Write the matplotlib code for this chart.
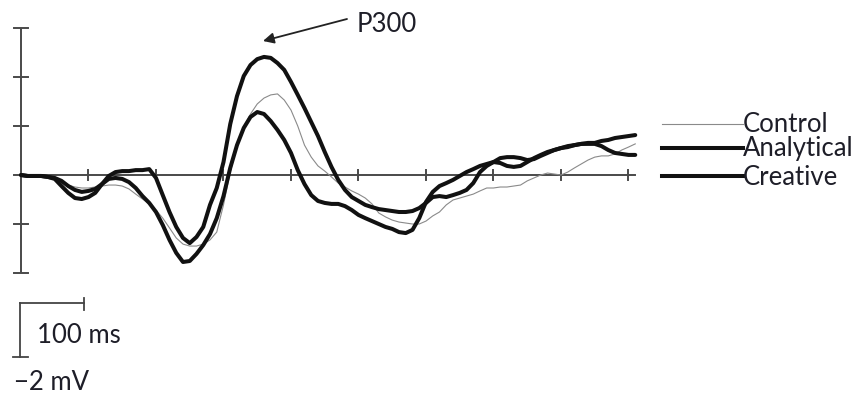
import matplotlib
matplotlib.use("Agg")
import matplotlib.pyplot as plt
from matplotlib.lines import Line2D
import numpy as np

# ---------------- data (µV, sampled every 10 ms from 0 to 910 ms) ----------------
time_ms = np.arange(0, 911, 10)

control = [
    0.00, -0.04, -0.04, -0.08, -0.08, -0.16, -0.29, -0.41, -0.49, -0.53,
    -0.53, -0.49, -0.45, -0.41, -0.41, -0.45, -0.57, -0.78, -0.98, -1.18,
    -1.43, -1.76, -2.16, -2.57, -2.82, -2.90, -2.90, -2.82, -2.65, -2.33,
    -1.22, 0.12, 1.18, 1.96, 2.49, 2.90, 3.14, 3.27, 3.31, 3.06,
    2.65, 2.00, 1.22, 0.73, 0.37, 0.16, -0.08, -0.33, -0.49, -0.65,
    -0.78, -0.94, -1.18, -1.55, -1.71, -1.84, -1.92, -1.96, -2.00, -2.00,
    -1.88, -1.67, -1.51, -1.22, -1.02, -0.94, -0.86, -0.78, -0.65, -0.53,
    -0.53, -0.49, -0.49, -0.45, -0.41, -0.24, -0.12, 0.00, 0.08, 0.04,
    0.00, 0.12, 0.29, 0.45, 0.61, 0.73, 0.78, 0.78, 0.86, 1.02,
    1.14, 1.27,
]

analytical = [
    0.00, -0.04, -0.04, -0.04, -0.08, -0.12, -0.24, -0.45, -0.61, -0.69,
    -0.65, -0.57, -0.37, -0.16, -0.12, -0.16, -0.29, -0.53, -0.86, -1.14,
    -1.51, -2.04, -2.65, -3.18, -3.55, -3.51, -3.22, -2.86, -2.41, -1.76,
    -0.86, 0.29, 1.22, 1.92, 2.37, 2.57, 2.49, 2.20, 1.84, 1.43,
    0.90, 0.20, -0.37, -0.82, -1.06, -1.14, -1.18, -1.18, -1.27, -1.43,
    -1.63, -1.76, -1.88, -2.00, -2.12, -2.20, -2.33, -2.37, -2.24, -1.76,
    -1.10, -0.69, -0.45, -0.33, -0.20, -0.04, 0.12, 0.24, 0.37, 0.45,
    0.53, 0.49, 0.37, 0.33, 0.37, 0.53, 0.69, 0.82, 0.94, 1.02,
    1.10, 1.18, 1.22, 1.27, 1.31, 1.31, 1.39, 1.43, 1.51, 1.55,
    1.59, 1.63,
]

creative = [
    0.00, -0.04, -0.04, -0.04, -0.08, -0.16, -0.45, -0.73, -0.94, -0.98,
    -0.90, -0.73, -0.37, -0.04, 0.12, 0.16, 0.16, 0.20, 0.20, 0.24,
    -0.12, -0.82, -1.51, -2.12, -2.57, -2.78, -2.53, -2.12, -1.22, -0.53,
    0.53, 2.08, 3.22, 4.04, 4.49, 4.73, 4.82, 4.78, 4.57, 4.29,
    3.80, 3.27, 2.73, 2.16, 1.59, 0.94, 0.33, -0.20, -0.61, -0.90,
    -1.06, -1.22, -1.31, -1.39, -1.43, -1.47, -1.51, -1.51, -1.47, -1.35,
    -1.14, -0.90, -0.86, -0.90, -0.82, -0.73, -0.61, -0.33, 0.12, 0.37,
    0.53, 0.69, 0.73, 0.73, 0.69, 0.61, 0.65, 0.78, 0.90, 1.02,
    1.10, 1.14, 1.22, 1.27, 1.27, 1.27, 1.18, 1.02, 0.90, 0.86,
    0.82, 0.82,
]

y_ticks = [-4, -2, 0, 2, 4, 6]
x_ticks = [100, 200, 300, 400, 500, 600, 700, 800, 900]
series_names = ["Control", "Analytical", "Creative"]

# ---------------- figure ----------------
W, H = 858, 396
fig = plt.figure(figsize=(W / 100, H / 100), dpi=100)
ax = fig.add_axes([0, 0, 1, 1])
ax.set_xlim(-31.1, 1240)
ax.set_ylim(-9.02, 7.143)
ax.axis("off")

axis_col = "#4a4a4a"
# vertical axis with ticks
ax.plot([0, 0], [y_ticks[0], y_ticks[-1]], color=axis_col, lw=1.4, solid_capstyle="butt")
for v in y_ticks:
    ax.plot([-10.5, 10.5], [v, v], color=axis_col, lw=1.4)
# zero line with ticks
ax.plot([0, 910], [0, 0], color=axis_col, lw=1.4)
for t in x_ticks:
    ax.plot([t, t], [-0.22, 0.22], color=axis_col, lw=1.4)

# curves
ax.plot(time_ms, control, color="#8a8a8a", lw=0.8, zorder=3)
ax.plot(time_ms, analytical, color="#111111", lw=2.9, zorder=4,
        solid_joinstyle="round", solid_capstyle="round")
ax.plot(time_ms, creative, color="#111111", lw=2.9, zorder=5,
        solid_joinstyle="round", solid_capstyle="round")

# ---------------- annotations in pixel coordinates ----------------
def P(x, y):
    return (x / W, 1 - y / H)

FONT = ["Lato", "DejaVu Sans"]
txt_col = "#1e1e28"
fs = 18.5

# P300 label and arrow
fig.text(*P(357, 32), "P300", fontsize=fs, family=FONT, color=txt_col, va="baseline", ha="left")
ax.annotate("", xy=P(263, 41), xycoords="figure fraction",
            xytext=P(347, 19), textcoords="figure fraction",
            arrowprops=dict(arrowstyle="-|>", color="#222222", lw=1.3,
                            mutation_scale=16, shrinkA=0, shrinkB=0))

# legend
leg_y = [124, 148, 176]
leg_base = [132, 156, 185]
leg_lw = [0.8, 2.9, 2.9]
leg_col = ["#8a8a8a", "#111111", "#111111"]
for name, ly, lb, lw, c in zip(series_names, leg_y, leg_base, leg_lw, leg_col):
    fig.add_artist(Line2D([662 / W, 743 / W], [1 - ly / H, 1 - ly / H],
                          transform=fig.transFigure, color=c, lw=lw))
    fig.text(*P(743, lb), name, fontsize=fs, family=FONT, color=txt_col,
             va="baseline", ha="left")

# scale bar
sb_col = "#444444"
fig.add_artist(Line2D([20 / W, 84 / W], [1 - 303 / H, 1 - 303 / H],
                      transform=fig.transFigure, color=sb_col, lw=1.3))
fig.add_artist(Line2D([84 / W, 84 / W], [1 - 298 / H, 1 - 310 / H],
                      transform=fig.transFigure, color=sb_col, lw=1.3))
fig.add_artist(Line2D([20 / W, 20 / W], [1 - 303 / H, 1 - 357 / H],
                      transform=fig.transFigure, color=sb_col, lw=1.3))
fig.add_artist(Line2D([13 / W, 28 / W], [1 - 357 / H, 1 - 357 / H],
                      transform=fig.transFigure, color=sb_col, lw=1.3))
fig.text(*P(37, 343), "100 ms", fontsize=fs, family=FONT, color=txt_col, va="baseline", ha="left")
fig.text(*P(14, 390), "\u22122 mV", fontsize=fs, family=FONT, color=txt_col, va="baseline", ha="left")

fig.savefig("out.png", dpi=100, facecolor="white")
